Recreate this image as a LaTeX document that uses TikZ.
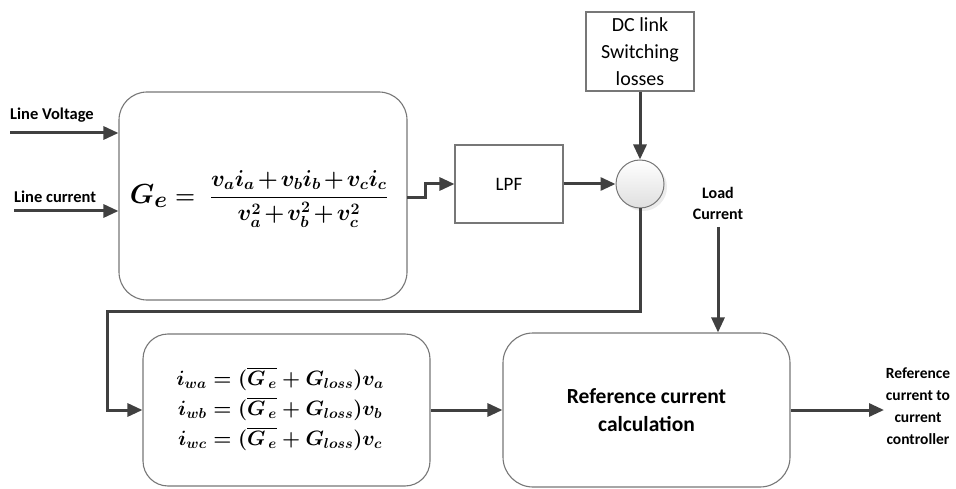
\documentclass[tikz,border=0pt]{standalone}
\usepackage{amsmath}
\usepackage{graphicx}
\usepackage{fontspec}
\setmainfont{Carlito}
\usetikzlibrary{arrows.meta,shadows}
\definecolor{arrcol}{HTML}{404040}
\definecolor{bordcol}{HTML}{777777}
\newsavebox{\myboxA}
\newsavebox{\myboxB}
\begin{document}
\sbox{\myboxA}{\resizebox{258pt}{!}{\boldmath{\fontsize{30}{34}\selectfont$G_e$}\fontsize{22}{26}\selectfont$\medmuskip=2mu\relax\;=\;\dfrac{v_a i_a+v_b i_b+v_c i_c}{v_a^2+v_b^2+v_c^2}$}}%
\sbox{\myboxB}{\fontsize{22.5}{28}\selectfont\boldmath$\begin{aligned}
i_{wa}&=(\overline{G_{\,e}}+G_{loss})v_a\\[-1pt]
i_{wb}&=(\overline{G_{\,e}}+G_{loss})v_b\\[-1pt]
i_{wc}&=(\overline{G_{\,e}}+G_{loss})v_c
\end{aligned}$}%
\begin{tikzpicture}[x=1pt,y=-1pt,
  rbox/.style={draw=bordcol,line width=1.1pt,fill=white},
  sbox/.style={draw=bordcol,line width=1.1pt,fill=white},
  conn/.style={draw=arrcol,line width=3pt},
  arr/.style={conn,-{Triangle[length=15pt,width=13pt]}},
  lbl/.style={font=\fontsize{16.5}{22}\selectfont\bfseries,text=black,align=center,inner sep=0pt},
  mathtxt/.style={inner sep=0pt,text=black}]
\useasboundingbox (0,0) rectangle (956,489);
% blocks
\node[rbox,rounded corners=28pt,minimum width=288pt,minimum height=208pt] (box1) at (263,196) {};
\node[mathtxt] (f1) at (259,199) {\usebox{\myboxA}};
\node[sbox,minimum width=108pt,minimum height=78pt,font=\fontsize{19}{23}\selectfont] (lpf) at (509,184) {LPF};
\node[sbox,minimum width=108pt,minimum height=79pt,align=center,font=\fontsize{20}{27}\selectfont] (dc) at (640,51.5) {DC link\\Switching\\losses};
\node[circle,draw=bordcol,line width=1pt,minimum size=48pt,inner sep=0pt,top color=white,bottom color=gray!25,drop shadow={shadow xshift=3pt,shadow yshift=-3pt,fill=gray!30,opacity=0.5}] (sum) at (640,184) {};
\node[rbox,rounded corners=25pt,minimum width=287pt,minimum height=152pt] (box2) at (286.5,410) {};
\node[mathtxt] (f2) at (280,410) {\usebox{\myboxB}};
\node[rbox,rounded corners=30pt,minimum width=287pt,minimum height=154pt,align=center,font=\fontsize{21.5}{28}\selectfont\bfseries] (box3) at (646.5,410) {Reference current\\calculation};
% labels
\node[lbl,anchor=west] (lv) at (10,115) {Line Voltage};
\node[lbl,anchor=west] (lc) at (14,197) {Line current};
\node[lbl,font=\fontsize{16}{21}\selectfont\bfseries] (load) at (718,203) {Load\\Current};
\node[lbl,font=\fontsize{15.5}{22}\selectfont\bfseries] (out) at (918,406) {Reference\\current to\\current\\controller};
% connectors
\coordinate (lvs) at (10,133);
\coordinate (lcs) at (14,211);
\draw[arr] (lvs) -- (lvs -| box1.west);
\draw[arr] (lcs) -- (lcs -| box1.west);
\coordinate (st) at (407,198);
\draw[arr] (st) -- ++(18,0) |- (lpf.west);
\draw[arr] (lpf.east) -- (sum.west);
\draw[arr] (dc.south) -- (sum.north);
\coordinate (fbA) at (640,311);
\coordinate (fbB) at (107,311);
\coordinate (fbC) at (107,410);
\draw[arr] (sum.south) -- (fbA) -- (fbB) -- (fbC) -- (box2.west);
\draw[arr] (box2.east) -- (box3.west);
\coordinate (ld) at (718,227);
\draw[arr] (ld) -- (ld |- box3.north);
\coordinate (oe) at (884,410);
\draw[arr] (box3.east) -- (oe);
\end{tikzpicture}
\end{document}
